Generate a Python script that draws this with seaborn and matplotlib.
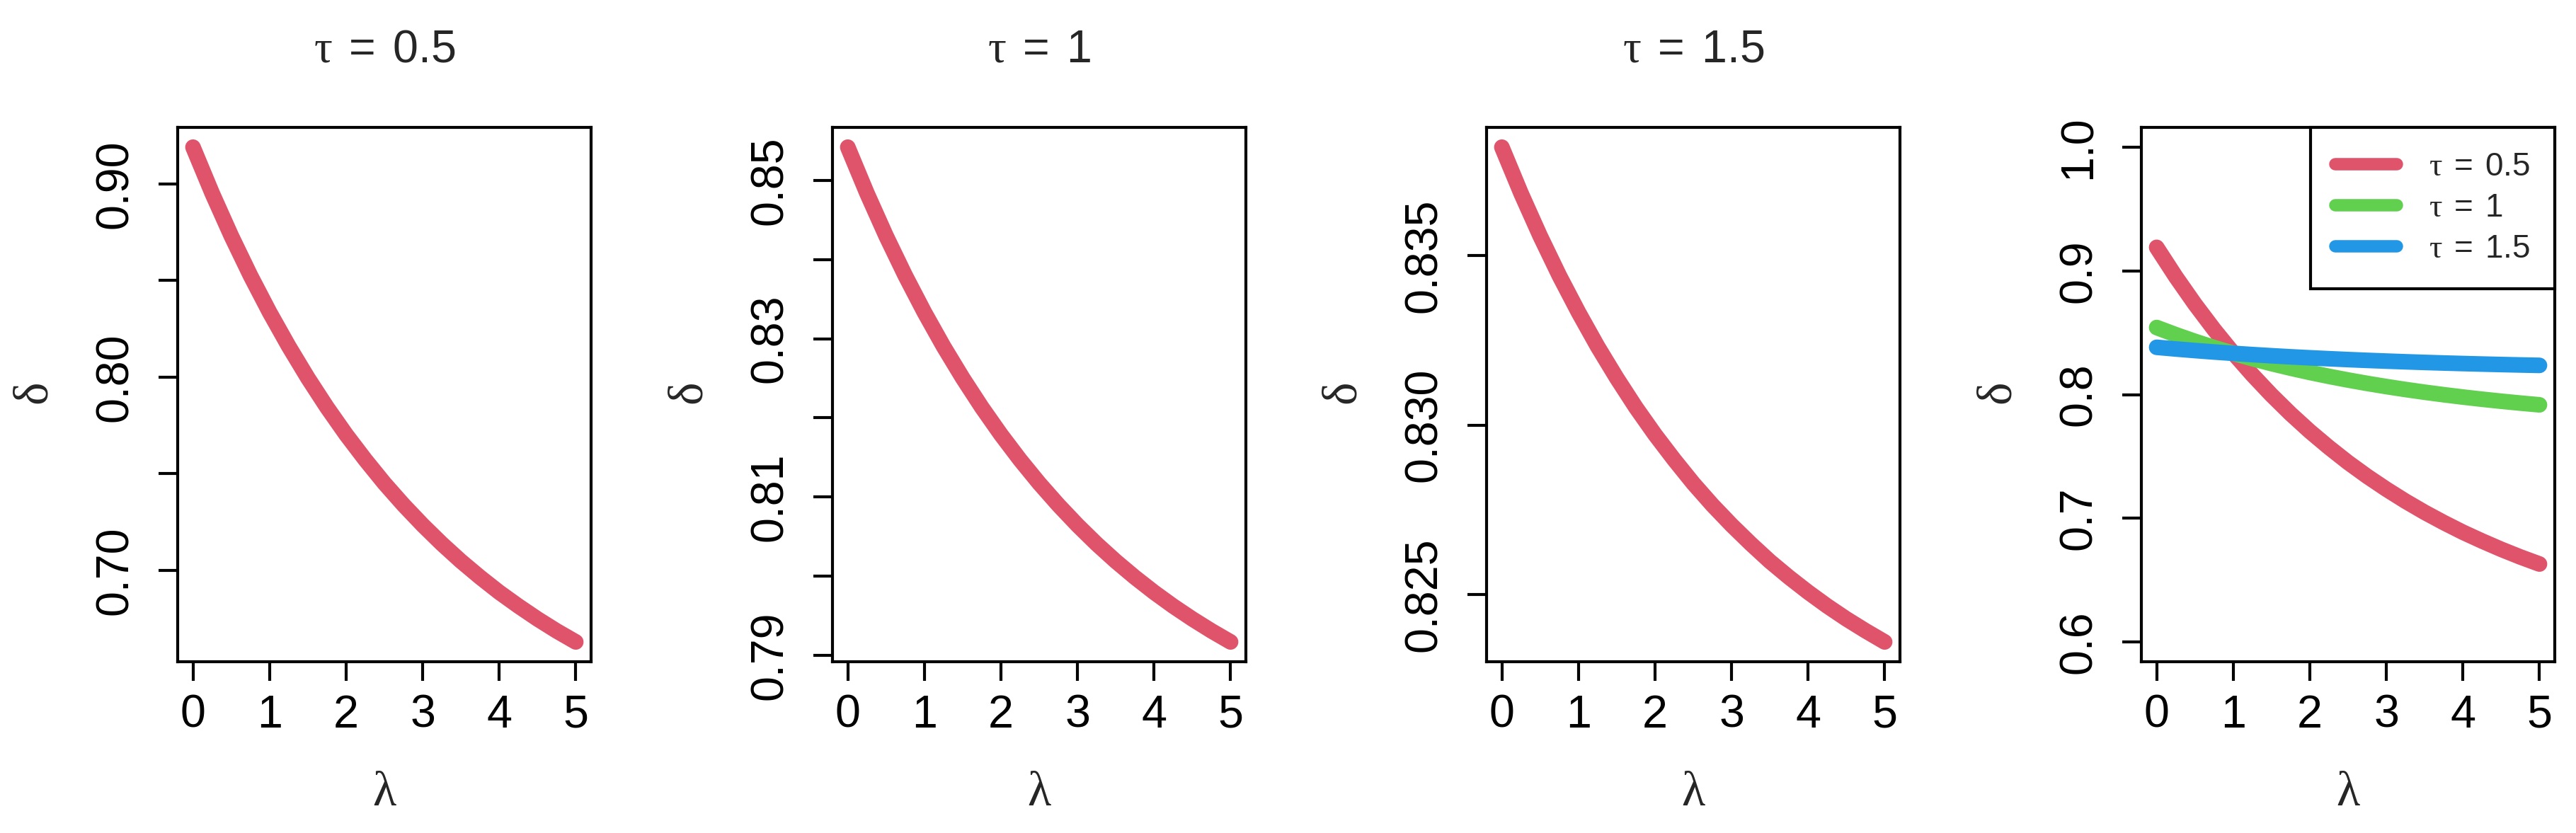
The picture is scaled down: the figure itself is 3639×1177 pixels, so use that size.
import matplotlib
matplotlib.use("Agg")
import matplotlib.pyplot as plt
import seaborn as sns

# values (delta vs lambda for three tau)
lam = [0.0, 0.25, 0.5, 0.75, 1.0, 1.25, 1.5, 1.75, 2.0, 2.25, 2.5,
       2.75, 3.0, 3.25, 3.5, 3.75, 4.0, 4.25, 4.5, 4.75, 5.0]
delta_tau05 = [0.9190, 0.8952, 0.8731, 0.8526, 0.8336, 0.8160, 0.7996, 0.7844, 0.7703, 0.7573, 0.7451,
               0.7339, 0.7235, 0.7138, 0.7048, 0.6965, 0.6887, 0.6816, 0.6749, 0.6687, 0.6630]
delta_tau1 = [0.85420, 0.84839, 0.84299, 0.83799, 0.83335, 0.82904, 0.82505, 0.82134, 0.81790, 0.81471, 0.81175,
              0.80901, 0.80646, 0.80409, 0.80190, 0.79987, 0.79798, 0.79623, 0.79461, 0.79310, 0.79170]
delta_tau15 = [0.83820, 0.83684, 0.83558, 0.83441, 0.83333, 0.83232, 0.83139, 0.83052, 0.82972, 0.82898, 0.82828,
               0.82764, 0.82705, 0.82650, 0.82598, 0.82551, 0.82507, 0.82466, 0.82428, 0.82393, 0.82360]

tau_labels = ["0.5", "1", "1.5"]
colors = ["#DF536B", "#61D04F", "#2297E6"]

x_ticks = [0, 1, 2, 3, 4, 5]
y_ticks = [
    [0.70, 0.75, 0.80, 0.85, 0.90],
    [0.79, 0.80, 0.81, 0.82, 0.83, 0.84, 0.85],
    [0.825, 0.830, 0.835],
    [0.6, 0.7, 0.8, 0.9, 1.0],
]
y_ticklabels = [
    ["0.70", "", "0.80", "", "0.90"],
    ["0.79", "", "0.81", "", "0.83", "", "0.85"],
    ["0.825", "0.830", "0.835"],
    ["0.6", "0.7", "0.8", "0.9", "1.0"],
]
panel4_ylim = (0.6, 1.0)

sns.set_style("ticks")
plt.rcParams["font.family"] = ["Liberation Sans", "DejaVu Sans"]
plt.rcParams["mathtext.fontset"] = "custom"
plt.rcParams["mathtext.rm"] = "Liberation Sans"
plt.rcParams["mathtext.it"] = "Liberation Serif"
plt.rcParams["mathtext.bf"] = "Liberation Sans:bold"

W, H = 3639, 1177
DPI = 300
fig = plt.figure(figsize=(W / DPI, H / DPI), dpi=DPI)
fig.patch.set_facecolor("white")

lefts = [251, 1176, 2100, 3025]
ax_w, ax_top, ax_bot = 584, 180, 935
ax_h = ax_bot - ax_top

series = [delta_tau05, delta_tau1, delta_tau15]
LW = 5.3


def tau_text(t):
    return r"$\tau\;=\;" + t + "$"


def style_axis(ax, i, ylo, yhi):
    pad = 0.04 * (yhi - ylo)
    ax.set_xlim(-0.2, 5.2)
    ax.set_xticks(x_ticks)
    ax.set_xticklabels([str(t) for t in x_ticks])
    ax.set_yticks(y_ticks[i])
    ax.set_yticklabels(y_ticklabels[i])
    ax.set_ylim(ylo - pad, yhi + pad)
    for s in ax.spines.values():
        s.set_visible(True)
        s.set_linewidth(1.0)
        s.set_color("black")
    ax.tick_params(axis="both", direction="out", length=6.5, width=1.0,
                   color="black", labelsize=15.5, labelcolor="black")
    ax.tick_params(axis="x", pad=4.5)
    ax.tick_params(axis="y", pad=7.5)
    for lab in ax.get_yticklabels():
        lab.set_rotation(90)
        lab.set_va("center")
        lab.set_ha("right")
    ax.set_xlabel(r"$\lambda$", fontsize=16.5)
    ax.set_ylabel(r"$\delta$", fontsize=16.5)
    ax.xaxis.label.set_va("center")
    ax.yaxis.label.set_va("center")
    ax.xaxis.set_label_coords(0.5, -185 / ax_h)
    ax.yaxis.set_label_coords(-202 / ax_w, 0.5)
    ax.grid(False)
    ax.set_facecolor("white")


for i in range(4):
    ax = fig.add_axes([lefts[i] / W, 1 - ax_bot / H, ax_w / W, ax_h / H])
    if i < 3:
        vals = series[i]
        sns.lineplot(x=lam, y=vals, ax=ax, color=colors[0], linewidth=LW,
                     solid_capstyle="round")
        style_axis(ax, i, min(vals), max(vals))
        ax.text(0.5, 1 + 109 / ax_h, tau_text(tau_labels[i]),
                transform=ax.transAxes, ha="center", va="center", fontsize=15.5)
    else:
        for vals, c, t in zip(series, colors, tau_labels):
            sns.lineplot(x=lam, y=vals, ax=ax, color=c, linewidth=LW,
                         solid_capstyle="round", label=tau_text(t))
        style_axis(ax, i, panel4_ylim[0], panel4_ylim[1])
        leg = ax.legend(loc="upper right", bbox_to_anchor=(1, 1), borderaxespad=0,
                        fontsize=11, frameon=True, fancybox=False,
                        handlelength=1.9, handletextpad=1.0, labelspacing=0.3,
                        borderpad=0.75)
        leg.get_frame().set_edgecolor("black")
        leg.get_frame().set_linewidth(1.0)
        leg.get_frame().set_alpha(1)
        for h in leg.get_lines():
            h.set_linewidth(4.2)
            h.set_solid_capstyle("round")

fig.savefig("out.png", dpi=DPI, facecolor="white")
